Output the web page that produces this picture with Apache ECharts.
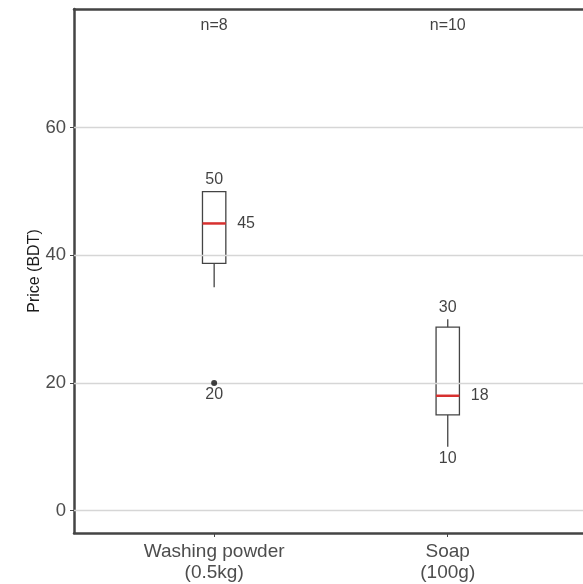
<!DOCTYPE html>
<html lang="en">
<head>
    <meta charset="UTF-8">
    <title>Price (BDT)</title>
    <script type="text/javascript" src="https://cdn.jsdelivr.net/npm/echarts@6/dist/echarts.min.js"></script>
    <style>
        html, body { margin: 0; padding: 0; background: #fff; }
    </style>
</head>
<body>
<div id="main" style="width: 583px;height:584px;"></div>

<script type="text/javascript">
    // data
    var categories = ['Washing powder\n(0.5kg)', 'Soap\n(100g)'];
    var whiskerLow = [35, 10];
    var q1 = [38.75, 15];
    var median = [45, 18];
    var q3 = [50, 28.75];
    var whiskerHigh = [50, 30];
    var outliers = [[0, 20]];          // [category index, value]
    var counts = [8, 10];
    var minLabels = [20, 10];
    var maxLabels = [50, 30];
    var yTicks = [0, 20, 40, 60];

    var nLabelY = 76;   // where the n= text sits
    var boxWidth = 0.1;
    var labelFont = 'Liberation Sans, Arial, sans-serif';
    var frame = {show: true, onZero: false, lineStyle: {color: '#444', width: 2.5}};

    var boxData = categories.map(function (c, i) {
        return [i + 1, whiskerLow[i], q1[i], median[i], q3[i], whiskerHigh[i]];
    });

    var chartDom = document.getElementById('main');
    var myChart = echarts.init(chartDom);

    var option = {
        animation: false,
        grid: {left: 74, right: 0, top: 9, bottom: 51},
        xAxis: [
            {
                type: 'value',
                min: 0.4,
                max: 2.579,   // plot is cut off at the right edge
                splitLine: {show: false},
                axisLine: frame,
                axisTick: {show: true, customValues: [1, 2], length: 4, lineStyle: {color: '#444', width: 1}},
                axisLabel: {
                    customValues: [1, 2],
                    formatter: function (v) { return categories[Math.round(v) - 1]; },
                    color: '#4d4d4d',
                    fontSize: 19,
                    lineHeight: 21,
                    margin: 8,
                    fontFamily: labelFont
                }
            },
            {
                // top frame line
                type: 'value',
                position: 'top',
                min: 0.4,
                max: 2.579,
                splitLine: {show: false},
                axisLine: frame,
                axisTick: {show: false},
                axisLabel: {show: false}
            }
        ],
        yAxis: {
            type: 'value',
            min: -3.5,
            max: 78.6,
            name: 'Price (BDT)',
            nameLocation: 'middle',
            nameRotate: 90,
            nameGap: 31,
            nameMoveOverlap: false,
            nameTextStyle: {color: '#1a1a1a', fontSize: 16, fontFamily: labelFont},
            splitLine: {show: false},
            axisLine: frame,
            axisTick: {show: true, customValues: yTicks, length: 4, lineStyle: {color: '#444', width: 1}},
            axisLabel: {
                customValues: yTicks,
                color: '#4d4d4d',
                fontSize: 18.5,
                margin: 8,
                fontFamily: labelFont
            }
        },
        series: [
            {
                // grid lines
                type: 'line',
                data: [],
                z: 1,
                markLine: {
                    silent: true,
                    symbol: 'none',
                    label: {show: false},
                    lineStyle: {color: '#d6d6d6', width: 1.3, type: 'solid'},
                    data: yTicks.map(function (v) { return {yAxis: v}; })
                }
            },
            {
                type: 'custom',
                z: 3,
                data: boxData,
                renderItem: function (params, api) {
                    var x = api.value(0);
                    var pLow = api.coord([x, api.value(1)]);
                    var pQ1 = api.coord([x, api.value(2)]);
                    var pMed = api.coord([x, api.value(3)]);
                    var pQ3 = api.coord([x, api.value(4)]);
                    var pHigh = api.coord([x, api.value(5)]);
                    var half = api.size([boxWidth, 0])[0] / 2;
                    var stroke = {stroke: '#444', lineWidth: 1.3, fill: null};
                    return {
                        type: 'group',
                        children: [
                            {type: 'line', shape: {x1: pLow[0], y1: pLow[1], x2: pQ1[0], y2: pQ1[1]}, style: stroke},
                            {type: 'line', shape: {x1: pQ3[0], y1: pQ3[1], x2: pHigh[0], y2: pHigh[1]}, style: stroke},
                            {type: 'rect', shape: {x: pQ3[0] - half, y: pQ3[1], width: half * 2, height: pQ1[1] - pQ3[1]},
                                style: {fill: '#fff', stroke: '#444', lineWidth: 1.3}},
                            {type: 'line', shape: {x1: pMed[0] - half, y1: pMed[1], x2: pMed[0] + half, y2: pMed[1]},
                                style: {stroke: '#d7302f', lineWidth: 2.5}}
                        ]
                    };
                }
            },
            {
                // max labels
                type: 'scatter',
                z: 5,
                symbolSize: 0,
                data: maxLabels.map(function (v, i) { return [i + 1, v]; }),
                label: {show: true, position: 'top', distance: 4, color: '#111', fontSize: 16, fontFamily: labelFont,
                    formatter: function (p) { return p.value[1]; }}
            },
            {
                // median labels
                type: 'scatter',
                z: 5,
                symbolSize: 0,
                data: median.map(function (v, i) { return [i + 1, v]; }),
                label: {show: true, position: 'right', distance: 23, color: '#111', fontSize: 16, fontFamily: labelFont,
                    formatter: function (p) { return p.value[1]; }}
            },
            {
                // min labels
                type: 'scatter',
                z: 5,
                symbolSize: 0,
                data: minLabels.map(function (v, i) { return [i + 1, v]; }),
                label: {show: true, position: 'bottom', distance: 4, color: '#111', fontSize: 16, fontFamily: labelFont,
                    formatter: function (p) { return p.value[1]; }}
            },
            {
                // n= labels
                type: 'scatter',
                z: 5,
                symbolSize: 0,
                data: counts.map(function (n, i) { return [i + 1, nLabelY]; }),
                label: {show: true, position: 'inside', color: '#111', fontSize: 16, fontFamily: labelFont,
                    formatter: function (p) { return 'n=' + counts[p.dataIndex]; }}
            },
            {
                // outliers
                type: 'scatter',
                z: 6,
                symbolSize: 6,
                itemStyle: {color: '#111'},
                data: outliers.map(function (o) { return [o[0] + 1, o[1]]; })
            }
        ]
    };

    option && myChart.setOption(option);
</script>
</body>
</html>
